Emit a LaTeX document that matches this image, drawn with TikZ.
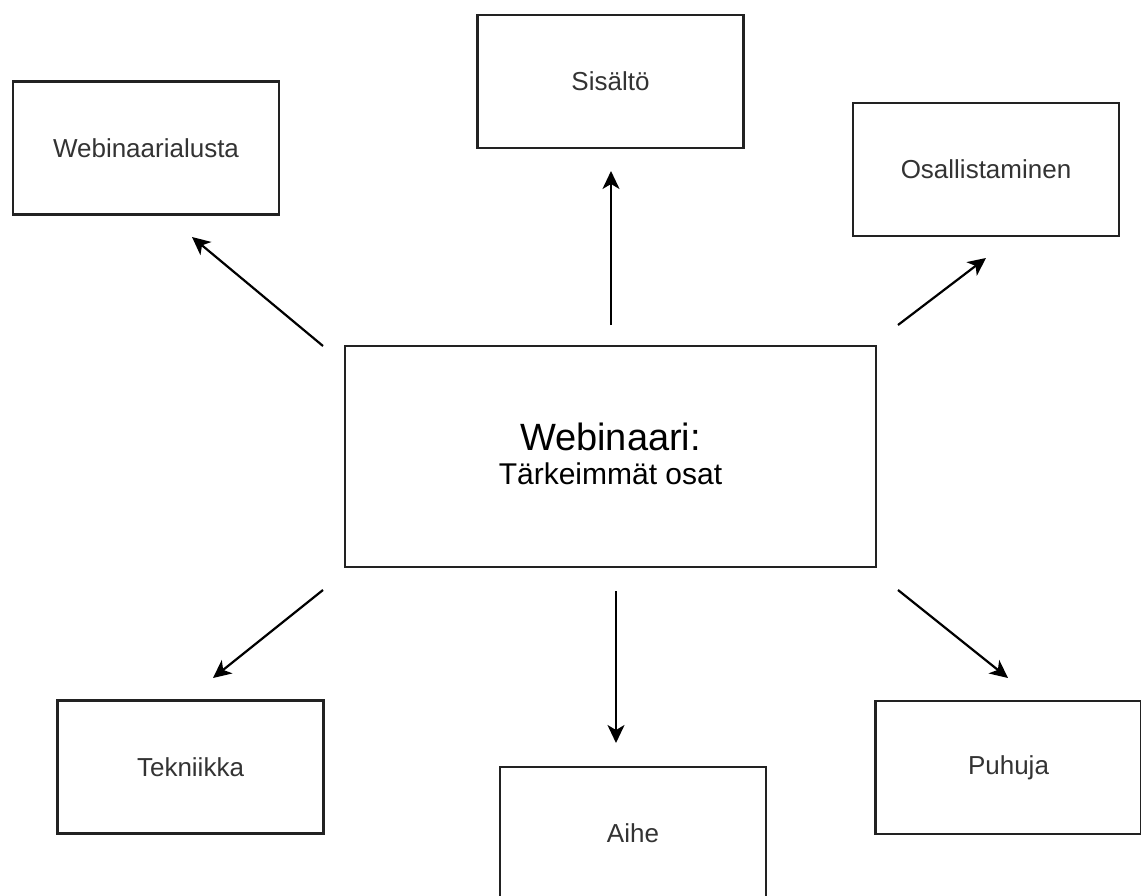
\documentclass[tikz,border=0pt]{standalone}
\usepackage{fontspec}
\setmainfont{Liberation Sans}
\usetikzlibrary{arrows.meta}
\definecolor{boxline}{HTML}{222222}
\definecolor{labeltext}{HTML}{333333}
\tikzset{
  box/.style={draw=boxline, line width=2.2pt, rectangle, minimum width=266pt, minimum height=133pt, inner sep=0pt, text=labeltext, font=\fontsize{26}{30}\selectfont},
  conn/.style={draw=black, line width=2.2pt, -{Stealth[length=18pt,width=17pt,inset=5pt]}}
}
\begin{document}
\begin{tikzpicture}[x=1pt,y=-1pt]
\useasboundingbox (0,0) rectangle (1141,896);
\clip (0,0) rectangle (1141,896);
\fill[white] (0,0) rectangle (1141,896);
\node[box] (alusta) at (146,148) {Webinaarialusta};
\node[box] (sisalto) at (610.5,81.5) {Sisältö};
\node[box] (osall) at (986,169.5) {Osallistaminen};
\node[box, minimum width=531pt, minimum height=221pt, text=black, align=center, text depth=6pt, font=\fontsize{30}{34}\selectfont] (center) at (610.5,456.5) {{\fontsize{38}{34}\selectfont Webinaari:}\\Tärkeimmät osat};
\node[box] (tekn) at (190.5,767) {Tekniikka};
\node[box] (aihe) at (633,833.5) {Aihe};
\node[box] (puhuja) at (1008.5,767.5) {Puhuja};
\coordinate (s1) at (323,346); \coordinate (e1) at (192,237);
\coordinate (s2) at (611,325); \coordinate (e2) at (611,171);
\coordinate (s3) at (898,325); \coordinate (e3) at (986,258);
\coordinate (s4) at (323,590); \coordinate (e4) at (213,678);
\coordinate (s5) at (616,591); \coordinate (e5) at (616,743);
\coordinate (s6) at (898,590); \coordinate (e6) at (1008,678);
\draw[conn] (s1) -- (e1);
\draw[conn] (s2) -- (e2);
\draw[conn] (s3) -- (e3);
\draw[conn] (s4) -- (e4);
\draw[conn] (s5) -- (e5);
\draw[conn] (s6) -- (e6);
\end{tikzpicture}
\end{document}
